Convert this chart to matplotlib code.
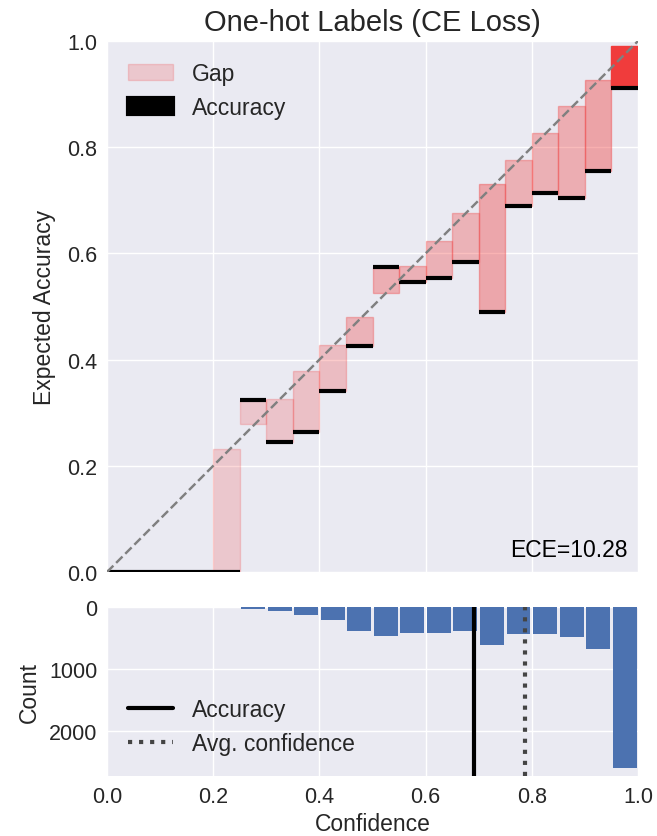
import numpy as np
import matplotlib
matplotlib.use("Agg")
import matplotlib.pyplot as plt

# bins: 20 equal-width bins on [0, 1]
bin_edges = np.linspace(0.0, 1.0, 21)

# per-bin accuracy / confidence / sample count
accuracies = [0.0, 0.0, 0.0, 0.0, 0.0,
              0.323, 0.245, 0.263, 0.340, 0.426,
              0.575, 0.547, 0.554, 0.583, 0.489,
              0.689, 0.713, 0.705, 0.756, 0.911]
confidences = [0.0, 0.0, 0.0, 0.0, 0.232,
               0.279, 0.326, 0.379, 0.428, 0.480,
               0.525, 0.576, 0.624, 0.676, 0.730,
               0.775, 0.826, 0.877, 0.926, 0.990]
counts = [0, 0, 0, 0, 3,
          30, 58, 122, 202, 383,
          468, 426, 415, 394, 612,
          436, 431, 489, 681, 2600]

avg_accuracy = 0.692
avg_confidence = 0.787
ece_text = "ECE=10.28"
title = "One-hot Labels (CE Loss)"

plt.style.use("seaborn-v0_8")
plt.rcParams["font.family"] = ["Liberation Sans", "DejaVu Sans"]
plt.rcParams["xtick.labelsize"] = 15.5
plt.rcParams["ytick.labelsize"] = 15.5
plt.rcParams["axes.labelsize"] = 16.5
plt.rcParams["legend.fontsize"] = 16.5
plt.rcParams["axes.titlesize"] = 21

acc = np.array(accuracies)
conf = np.array(confidences)
cnt = np.array(counts, dtype=float)

bin_size = 1.0 / len(cnt)
positions = bin_edges[:-1] + bin_size / 2.0

# bin importance drawn as alpha
norm = (cnt - cnt.min()) / (cnt.max() - cnt.min())
colors = np.zeros((len(cnt), 4))
colors[:, 0] = 240 / 255.
colors[:, 1] = 60 / 255.
colors[:, 2] = 60 / 255.
colors[:, 3] = 0.2 + 0.8 * norm

fig = plt.figure(figsize=(6.57, 8.37), dpi=100)
ax = fig.add_axes([0.1629, 0.3154, 0.8082, 0.6344])
ax2 = fig.add_axes([0.1629, 0.0717, 0.8082, 0.2019])

# --- reliability diagram ---
gap_plt = ax.bar(positions, np.abs(acc - conf), bottom=np.minimum(acc, conf),
                 width=bin_size, edgecolor=colors, color=colors, linewidth=1,
                 label="Gap")
acc_plt = ax.bar(positions, 0, bottom=acc, width=bin_size, edgecolor="black",
                 color="black", alpha=1.0, linewidth=3, label="Accuracy")
ax.plot([0, 1], [0, 1], linestyle="--", color="gray")
ax.text(0.98, 0.02, ece_text, color="black", ha="right", va="bottom",
        transform=ax.transAxes, fontsize=16.5)
ax.set_xlim(0, 1)
ax.set_ylim(0, 1)
ax.set_xticks(np.arange(0, 1.01, 0.2))
ax.set_xticklabels([])
ax.set_yticks(np.arange(0, 1.01, 0.2))
ax.set_title(title, pad=8)
ax.set_ylabel("Expected Accuracy", labelpad=8)
ax.legend(handles=[gap_plt, acc_plt], loc="upper left")

# --- confidence histogram, drawn upside down ---
ax2.bar(positions, -cnt, width=bin_size * 0.9)
ax2.set_xlim(0, 1)
ax2.set_ylim(-cnt.max() * 1.05, 0)
ax2.set_xticks(np.arange(0, 1.01, 0.2))
ax2.set_xticklabels(["%.1f" % t for t in np.arange(0, 1.01, 0.2)])
ax2.set_yticks([0, -1000, -2000])
ax2.set_yticklabels(["0", "1000", "2000"])
ax2.set_xlabel("Confidence")
ax2.set_ylabel("Count", labelpad=6)
l1 = ax2.axvline(x=avg_accuracy, ls="solid", lw=3, c="black", label="Accuracy")
l2 = ax2.axvline(x=avg_confidence, ls="dotted", lw=3, c="#444", label="Avg. confidence")
ax2.legend(handles=[l1, l2], loc="lower left")

fig.savefig("out.png", dpi=100)
